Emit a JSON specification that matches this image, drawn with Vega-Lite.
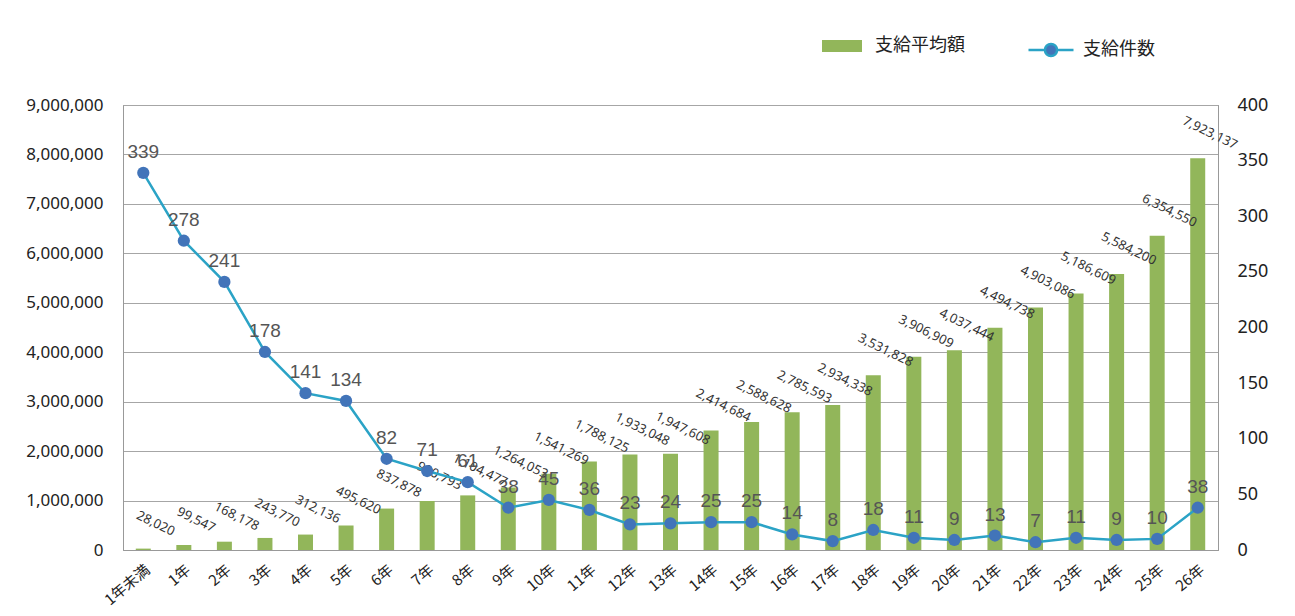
{
  "$schema": "https://vega.github.io/schema/vega-lite/v6.json",
  "width": 1095,
  "height": 445,
  "autosize": {"type": "none"},
  "padding": {"left": 123, "top": 105, "right": 77, "bottom": 66},
  "background": "white",
  "config": {
    "font": "Noto Sans CJK JP",
    "view": {"stroke": "#999999", "strokeWidth": 1}
  },
  "data": {
    "values": [
      {"year": "1年未満", "amount": 28020, "count": 339},
      {"year": "1年", "amount": 99547, "count": 278},
      {"year": "2年", "amount": 168178, "count": 241},
      {"year": "3年", "amount": 243770, "count": 178},
      {"year": "4年", "amount": 312136, "count": 141},
      {"year": "5年", "amount": 495620, "count": 134},
      {"year": "6年", "amount": 837878, "count": 82},
      {"year": "7年", "amount": 990793, "count": 71},
      {"year": "8年", "amount": 1104477, "count": 61},
      {"year": "9年", "amount": 1264053, "count": 38},
      {"year": "10年", "amount": 1541269, "count": 45},
      {"year": "11年", "amount": 1788125, "count": 36},
      {"year": "12年", "amount": 1933048, "count": 23},
      {"year": "13年", "amount": 1947608, "count": 24},
      {"year": "14年", "amount": 2414684, "count": 25},
      {"year": "15年", "amount": 2588628, "count": 25},
      {"year": "16年", "amount": 2785593, "count": 14},
      {"year": "17年", "amount": 2934338, "count": 8},
      {"year": "18年", "amount": 3531828, "count": 18},
      {"year": "19年", "amount": 3906909, "count": 11},
      {"year": "20年", "amount": 4037444, "count": 9},
      {"year": "21年", "amount": 4494738, "count": 13},
      {"year": "22年", "amount": 4903086, "count": 7},
      {"year": "23年", "amount": 5186609, "count": 11},
      {"year": "24年", "amount": 5584200, "count": 9},
      {"year": "25年", "amount": 6354550, "count": 10},
      {"year": "26年", "amount": 7923137, "count": 38}
    ]
  },
  "encoding": {
    "x": {
      "field": "year",
      "type": "nominal",
      "sort": null,
      "scale": {"paddingInner": 0.63, "paddingOuter": 0.315},
      "axis": {
        "title": null,
        "labelAngle": -40,
        "labelFontSize": 15,
        "labelColor": "#222222",
        "labelFont": "Noto Sans CJK JP",
        "ticks": false,
        "labelPadding": 12,
        "domainColor": "#999999"
      }
    }
  },
  "layer": [
    {
      "encoding": {
        "y": {
          "field": "amount",
          "type": "quantitative",
          "scale": {"domain": [0, 9000000], "nice": false},
          "axis": {
            "title": null,
            "orient": "left",
            "values": [0, 1000000, 2000000, 3000000, 4000000, 5000000, 6000000, 7000000, 8000000, 9000000],
            "format": ",d",
            "labelFontSize": 17,
            "labelColor": "#222222",
            "labelFont": "Noto Sans",
            "labelPadding": 20,
            "ticks": false,
            "domainColor": "#999999",
            "grid": true,
            "gridColor": "#a6a6a6",
            "gridWidth": 1.2
          }
        }
      },
      "layer": [
        {
          "mark": {"type": "bar", "color": "#92b65a"},
          "encoding": {
            "fill": {
              "datum": "支給平均額",
              "scale": {"domain": ["支給平均額"], "range": ["#92b65a"]},
              "legend": {
                "title": null,
                "orient": "none",
                "legendX": 699,
                "legendY": -79,
                "symbolType": "M-1,-0.3H1V0.3H-1Z",
                "symbolSize": 1600,
                "symbolStrokeWidth": 0,
                "labelFontSize": 18,
                "labelColor": "#222222",
                "labelFont": "Noto Sans CJK JP",
                "labelOffset": 13,
                "padding": 0
              }
            }
          }
        },
        {
          "mark": {
            "type": "text",
            "angle": 26,
            "dy": -28,
            "align": "center",
            "baseline": "middle",
            "fontSize": 13,
            "font": "Noto Sans",
            "color": "#333333"
          },
          "encoding": {
            "text": {"field": "amount", "type": "quantitative", "format": ",d"}
          }
        }
      ]
    },
    {
      "encoding": {
        "y": {
          "field": "count",
          "type": "quantitative",
          "scale": {"domain": [0, 400], "nice": false},
          "axis": {
            "title": null,
            "orient": "right",
            "values": [0, 50, 100, 150, 200, 250, 300, 350, 400],
            "labelFontSize": 18,
            "labelColor": "#222222",
            "labelFont": "Noto Sans",
            "labelPadding": 19,
            "ticks": false,
            "domainColor": "#999999",
            "grid": false
          }
        }
      },
      "layer": [
        {
          "mark": {"type": "line", "strokeWidth": 2.5},
          "encoding": {
            "stroke": {
              "datum": "支給件数",
              "scale": {"domain": ["支給件数"], "range": ["#2ba3c6"]},
              "legend": {
                "title": null,
                "orient": "none",
                "legendX": 904,
                "legendY": -79,
                "symbolType": "M-1,0H-0.27M0.27,0H1M-0.27,0A0.27,0.27 0 1,0 0.27,0A0.27,0.27 0 1,0 -0.27,0Z",
                "symbolSize": 2025,
                "symbolStrokeWidth": 2.5,
                "symbolFillColor": "#4274b9",
                "labelFontSize": 18,
                "labelColor": "#222222",
                "labelFont": "Noto Sans CJK JP",
                "labelOffset": 8,
                "padding": 0
              }
            }
          }
        },
        {
          "mark": {"type": "point", "filled": true, "size": 150, "color": "#4274b9", "opacity": 1}
        },
        {
          "mark": {
            "type": "text",
            "dy": -21,
            "align": "center",
            "baseline": "middle",
            "fontSize": 19,
            "font": "Liberation Sans",
            "color": "#555555"
          },
          "encoding": {
            "text": {"field": "count", "type": "quantitative"}
          }
        }
      ]
    }
  ],
  "resolve": {"scale": {"y": "independent", "fill": "independent", "stroke": "independent"}}
}
